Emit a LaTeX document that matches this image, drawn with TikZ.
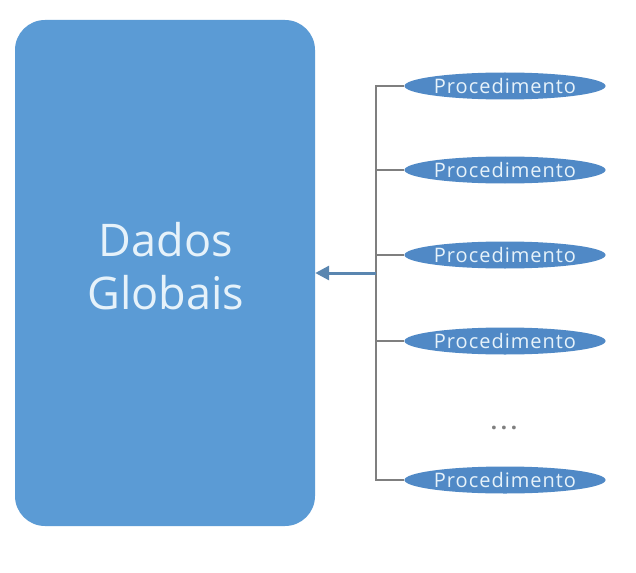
\documentclass[tikz,border=0pt]{standalone}
\usepackage{fontspec}
\setmainfont{Open Sans}
\newfontfamily\procfont[LetterSpace=5]{Open Sans}
\usetikzlibrary{shapes.geometric,arrows.meta}
\definecolor{boxblue}{HTML}{5B9BD5}
\definecolor{ellblue}{HTML}{5089C6}
\definecolor{txtlight}{HTML}{E6F2FA}
\definecolor{linegray}{HTML}{7F7F7F}
\definecolor{arrowblue}{HTML}{5A86B0}
\tikzset{
  global/.style={draw=none, fill=boxblue, rounded corners=30pt, minimum width=300pt, minimum height=506pt, inner sep=0pt},
  proc/.style={ellipse, draw=none, fill=ellblue, minimum width=200pt, minimum height=27pt, inner sep=0pt, text=txtlight, font=\procfont\fontsize{20}{20}\selectfont},
  conn/.style={draw=linegray, line width=1.6pt},
  arr/.style={draw=arrowblue, line width=3pt, -{Triangle[length=14pt,width=14pt]}}
}
\begin{document}
\begin{tikzpicture}[x=1pt,y=-1pt]
\useasboundingbox (0,0) rectangle (636,572);
\fill[white] (0,0) rectangle (636,572);
\node[global] (dados) at (165,273) {};
\node[text=txtlight, align=center, font=\fontsize{45}{53}\selectfont] (dadostxt) at (166,266) {Dados\\Globais};
\node[proc] (p1) at (505,86) {Procedimento};
\node[proc] (p2) at (505,170) {Procedimento};
\node[proc] (p3) at (505,255) {Procedimento};
\node[proc] (p4) at (505,341) {Procedimento};
\node[text=linegray, font=\bfseries\fontsize{22}{22}\selectfont] (dots) at (504,428) {.\,.\,.};
\node[proc] (p5) at (505,480) {Procedimento};
\coordinate (vtop) at (376,86);
\coordinate (vbot) at (376,480);
\coordinate (hub) at (376,273);
\draw[conn] (p1.west) -- (vtop) -- (vbot) -- (p5.west);
\draw[conn] (p2.west) -- (p2.west -| hub);
\draw[conn] (p3.west) -- (p3.west -| hub);
\draw[conn] (p4.west) -- (p4.west -| hub);
\draw[arr] (hub) -- (dados.east);
\end{tikzpicture}
\end{document}
